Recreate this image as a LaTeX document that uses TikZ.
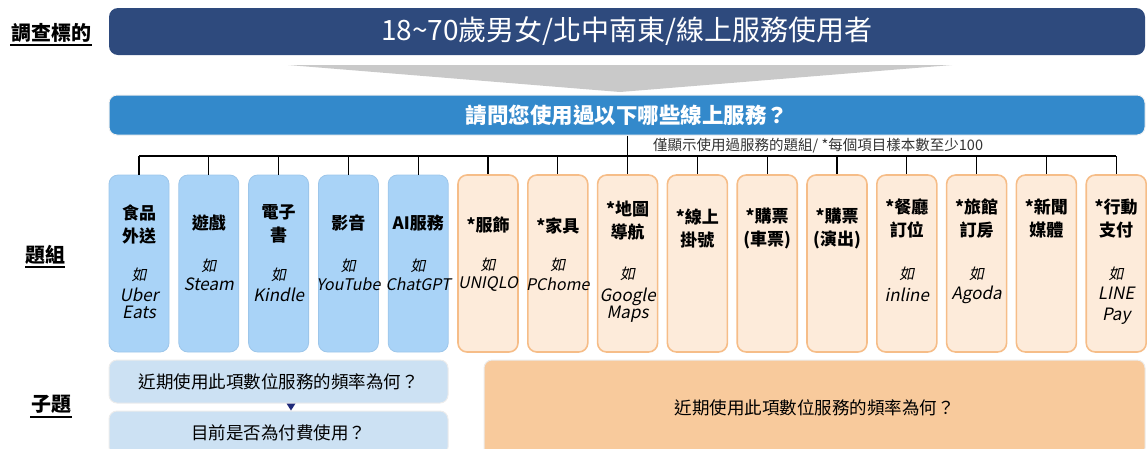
\documentclass[tikz,border=0pt]{standalone}
\usepackage{fontspec}
\setmainfont{Noto Sans CJK TC}
\newfontfamily\itfont[FakeSlant=0.2]{Noto Sans CJK TC}
\usetikzlibrary{calc}
\definecolor{navy}{HTML}{2E4A7D}
\definecolor{qblue}{HTML}{3389CB}
\definecolor{funnel}{HTML}{C9C9C9}
\definecolor{bfill}{HTML}{A9D3F7}
\definecolor{bdraw}{HTML}{9DC6EA}
\definecolor{ofill}{HTML}{FDEBDA}
\definecolor{odraw}{HTML}{F6BD88}
\definecolor{sfill}{HTML}{CCE1F3}
\definecolor{bigo}{HTML}{F8CA9C}
\definecolor{tri}{HTML}{1F2A7A}
\begin{document}
\begin{tikzpicture}[x=1pt,y=-1pt,
  lbl/.style={font=\fontsize{20}{24}\selectfont\bfseries, inner sep=0},
  bbox/.style={draw=bdraw, fill=bfill, rounded corners=9pt, minimum width=60pt, minimum height=177pt, line width=0.8pt, inner sep=0},
  obox/.style={draw=odraw, fill=ofill, rounded corners=9pt, minimum width=60pt, minimum height=177pt, line width=1.6pt, inner sep=0},
  ttl/.style={font=\fontsize{17}{23}\selectfont\bfseries, align=center, inner sep=0},
  ru/.style={font=\itfont\fontsize{15}{18}\selectfont, inner sep=0},
  ex/.style={font=\itfont\fontsize{17}{20}\selectfont, align=center, inner sep=0},
  tree/.style={line width=1.3pt, black},
  sub/.style={draw=white!85!gray, line width=1pt, rounded corners=8pt, inner sep=0, font=\fontsize{17.5}{20}\selectfont}
]
\useasboundingbox (0,0) rectangle (1147,448);

% left labels
\node[lbl] (l1) at (51,33) {調查標的};
\draw[line width=1.2pt] (10,45) -- (92,45);
\node[lbl] (l2) at (45,255) {題組};
\draw[line width=1.2pt] (25,267) -- (65,267);
\node[lbl] (l3) at (51,404) {子題};
\draw[line width=1.2pt] (30,417) -- (72,417);

% top box
\node[fill=navy, rounded corners=9pt, minimum width=1036pt, minimum height=47pt, inner sep=0,
      font=\fontsize{28}{30}\selectfont, text=white] (top) at (627,31.5) {18\textasciitilde70歲男女/北中南東/線上服務使用者};

% funnel
\fill[funnel] (288,65) -- (952,65) -- (620,92) -- cycle;

% question box
\node[fill=qblue, draw=white!88!gray, line width=1pt, rounded corners=8pt, minimum width=1036pt, minimum height=40pt, inner sep=0,
      font=\fontsize{21.5}{24}\selectfont\bfseries, text=white] (q) at (627,115) {請問您使用過以下哪些線上服務？};

\node[anchor=west, inner sep=0, font=\fontsize{14.5}{16}\selectfont, text=black!80] (note) at (653,146) {僅顯示使用過服務的題組/ *每個項目樣本數至少100};

% boxes
\foreach \i in {0,...,4} {
  \node[bbox] (b\i) at ({139+69.8*\i},263.5) {};
}
\foreach \i in {5,...,14} {
  \node[obox] (b\i) at ({139+69.8*\i},263.5) {};
}

% tree
\coordinate (h) at (0,156);
\draw[tree] (b0.north |- h) -- (b14.north |- h);
\draw[tree] (q.south -| b7.north) -- (b7.north);
\foreach \i in {0,...,6,8,9,10,11,12,13,14} {
  \draw[tree] (b\i.north |- h) -- (b\i.north);
}

% box texts
\node[ttl] at ($(b0.north)+(0,49.5)$) {食品\\外送};
\node[ru]  at ($(b0.north)+(0,100)$) {如};
\node[ex]  at ($(b0.north)+(0,129)$) {Uber\\[-3pt]Eats};

\node[ttl] at ($(b1.north)+(0,48)$) {遊戲};
\node[ru]  at ($(b1.north)+(0,91)$) {如};
\node[ex]  at ($(b1.north)+(0,110)$) {Steam};

\node[ttl] at ($(b2.north)+(0,49)$) {電子\\書};
\node[ru]  at ($(b2.north)+(0,100)$) {如};
\node[ex]  at ($(b2.north)+(0,120)$) {Kindle};

\node[ttl] at ($(b3.north)+(0,48)$) {影音};
\node[ru]  at ($(b3.north)+(0,91)$) {如};
\node[ex, font=\itfont\fontsize{16}{20}\selectfont]  at ($(b3.north)+(0,110)$) {YouTube};

\node[ttl] at ($(b4.north)+(0,48)$) {AI服務};
\node[ru]  at ($(b4.north)+(0,91)$) {如};
\node[ex, font=\itfont\fontsize{16}{20}\selectfont]  at ($(b4.north)+(0,110)$) {ChatGPT};

\node[ttl] at ($(b5.north)+(0,51)$) {*服飾};
\node[ru]  at ($(b5.north)+(0,91)$) {如};
\node[ex, font=\itfont\fontsize{16}{20}\selectfont]  at ($(b5.north)+(0,110)$) {UNIQLO};

\node[ttl] at ($(b6.north)+(0,52)$) {*家具};
\node[ru]  at ($(b6.north)+(0,91)$) {如};
\node[ex, font=\itfont\fontsize{16}{20}\selectfont]  at ($(b6.north)+(0,110)$) {PChome};

\node[ttl] at ($(b7.north)+(0,46.5)$) {*地圖\\導航};
\node[ru]  at ($(b7.north)+(0,100)$) {如};
\node[ex]  at ($(b7.north)+(0,131)$) {Google\\[-3pt]Maps};

\node[ttl] at ($(b8.north)+(0,54)$) {*線上\\掛號};
\node[ttl] at ($(b9.north)+(0,54)$) {*購票\\(車票)};
\node[ttl] at ($(b10.north)+(0,54)$) {*購票\\(演出)};

\node[ttl] at ($(b11.north)+(0,44)$) {*餐廳\\訂位};
\node[ru]  at ($(b11.north)+(0,100)$) {如};
\node[ex]  at ($(b11.north)+(0,121)$) {inline};

\node[ttl] at ($(b12.north)+(0,44)$) {*旅館\\訂房};
\node[ru]  at ($(b12.north)+(0,100)$) {如};
\node[ex]  at ($(b12.north)+(0,121)$) {Agoda};

\node[ttl] at ($(b13.north)+(0,44)$) {*新聞\\媒體};

\node[ttl] at ($(b14.north)+(0,44)$) {*行動\\支付};
\node[ru]  at ($(b14.north)+(0,100)$) {如};
\node[ex]  at ($(b14.north)+(0,132)$) {LINE\\[1pt]Pay};

% sub questions
\node[sub, fill=sfill, minimum width=339pt, minimum height=43pt] (s1) at (278.5,381.5) {近期使用此項數位服務的頻率為何？};
\node[sub, fill=sfill, minimum width=339pt, minimum height=44pt] (s2) at (278.5,433) {目前是否為付費使用？};
\fill[tri] ($(s1.south)+(8,0)$) -- ($(s1.south)+(17,0)$) -- ($(s1.south)+(12.5,7)$) -- cycle;
\node[sub, fill=bigo, minimum width=661pt, minimum height=96pt] (s3) at (814.5,408) {近期使用此項數位服務的頻率為何？};
\end{tikzpicture}
\end{document}
